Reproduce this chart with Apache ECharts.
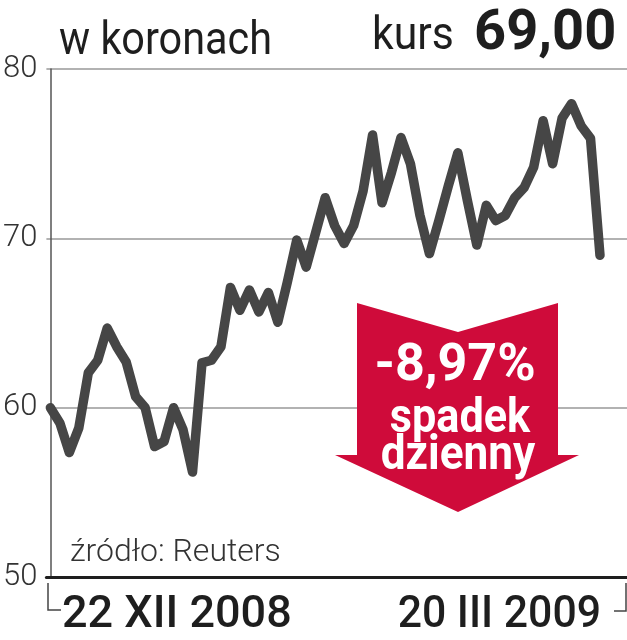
<!DOCTYPE html>
<html>
<head>
<meta charset="utf-8">
<script src="https://cdn.jsdelivr.net/npm/echarts@6/dist/echarts.min.js"></script>
<style>
html,body{margin:0;padding:0;background:#fff;}
#c{width:627px;height:640px;}
</style>
</head>
<body>
<div id="c"></div>
<script>
// Daily closing price (CZK), 22 XII 2008 – 20 III 2009
var values = [60.0, 59.1, 57.35, 58.8, 62.05, 62.8, 64.7, 63.6, 62.7, 60.65,
  60.0, 57.7, 58.0, 60.0, 58.7, 56.2, 62.65, 62.8, 63.6, 67.1,
  65.75, 66.95, 65.65, 66.8, 65.05, 67.4, 69.9, 68.3, 70.35, 72.4,
  70.75, 69.7, 70.75, 72.8, 76.1, 72.1, 73.9, 75.95, 74.4, 71.35,
  69.1, 71.05, 73.1, 75.05, 72.25, 69.6, 71.95, 71.05, 71.35, 72.4,
  73.0, 74.2, 76.95, 74.4, 77.1, 77.95, 76.65, 75.9, 69.0];
var dateLabels = ['22 XII 2008', '20 III 2009'];
var yTicks = [50, 60, 70, 80];
var unitLabel = 'w koronach';
var kursLabel = 'kurs';
var kursValue = '69,00';
var changeLines = ['-8,97%', 'spadek', 'dzienny'];
var sourceLabel = 'źródło: Reuters';

var FONT = 'Roboto, "Noto Sans", sans-serif';
var chart = echarts.init(document.getElementById('c'));
var seriesData = values.map(function (v, i) { return [i, v]; });

chart.setOption({
  animation: false,
  backgroundColor: '#fff',
  grid: { left: 46, right: 0, top: 69, bottom: 63 },
  xAxis: {
    type: 'value', min: -0.42, max: 60.85,
    axisLine: { show: true, onZero: false, lineStyle: { color: '#1e1e1e', width: 3 } },
    axisTick: { show: false }, axisLabel: { show: false }, splitLine: { show: false }
  },
  yAxis: {
    type: 'value', min: yTicks[0], max: yTicks[yTicks.length - 1], interval: 10,
    axisLine: { show: true, lineStyle: { color: '#555', width: 1.5 } },
    axisTick: { show: false },
    axisLabel: { color: '#333', fontSize: 31, fontWeight: 300, fontFamily: FONT, margin: 9 },
    splitLine: { show: true, lineStyle: { color: '#999', width: 1.5 } }
  },
  series: [{
    type: 'line', data: seriesData, symbol: 'none', z: 5,
    lineStyle: { color: '#464646', width: 9.5, cap: 'round', join: 'round' }
  }],
  graphic: [
    { type: 'text', x: 59, y: 19, scaleX: 0.9, style: { text: unitLabel, font: '400 46px ' + FONT, fill: '#1e1e1e', textVerticalAlign: 'top' } },
    { type: 'text', x: 372, y: 14, scaleX: 0.93, style: { text: kursLabel, font: '400 46px ' + FONT, fill: '#1e1e1e', textVerticalAlign: 'top' } },
    { type: 'text', x: 474, y: 7, style: { text: kursValue, font: '700 56px ' + FONT, fill: '#1e1e1e', textVerticalAlign: 'top' } },
    { type: 'text', x: 70, y: 537, style: { text: sourceLabel, font: '300 32px ' + FONT, fill: '#333', textVerticalAlign: 'top' } },
    { type: 'text', x: 62, y: 593, style: { text: dateLabels[0], font: '500 45px ' + FONT, fill: '#1e1e1e', textVerticalAlign: 'top' } },
    { type: 'text', x: 601, y: 593, scaleX: 0.95, style: { text: dateLabels[1], font: '500 45px ' + FONT, fill: '#1e1e1e', textAlign: 'right', textVerticalAlign: 'top' } },
    { type: 'polyline', shape: { points: [[48, 583], [48, 610], [61, 610]] }, style: { stroke: '#444', lineWidth: 1.5, fill: null } },
    { type: 'polyline', shape: { points: [[626, 583], [626, 611], [614, 611]] }, style: { stroke: '#444', lineWidth: 1.5, fill: null } },
    { type: 'polygon', z: 10,
      shape: { points: [[357, 303], [458, 332], [558, 303], [558, 455], [579, 455], [458, 512], [335, 455], [357, 455]] },
      style: { fill: '#cf0b3a' } },
    { type: 'text', z: 11, x: 455, y: 367, style: { text: changeLines[0], font: '700 52px ' + FONT, fill: '#fff', textAlign: 'center', textVerticalAlign: 'middle' } },
    { type: 'text', z: 11, x: 460, y: 420, scaleX: 0.9, style: { text: changeLines[1], font: '700 48px ' + FONT, fill: '#fff', textAlign: 'center', textVerticalAlign: 'middle' } },
    { type: 'text', z: 11, x: 458, y: 457, scaleX: 0.92, style: { text: changeLines[2], font: '700 48px ' + FONT, fill: '#fff', textAlign: 'center', textVerticalAlign: 'middle' } }
  ]
});
</script>
</body>
</html>
